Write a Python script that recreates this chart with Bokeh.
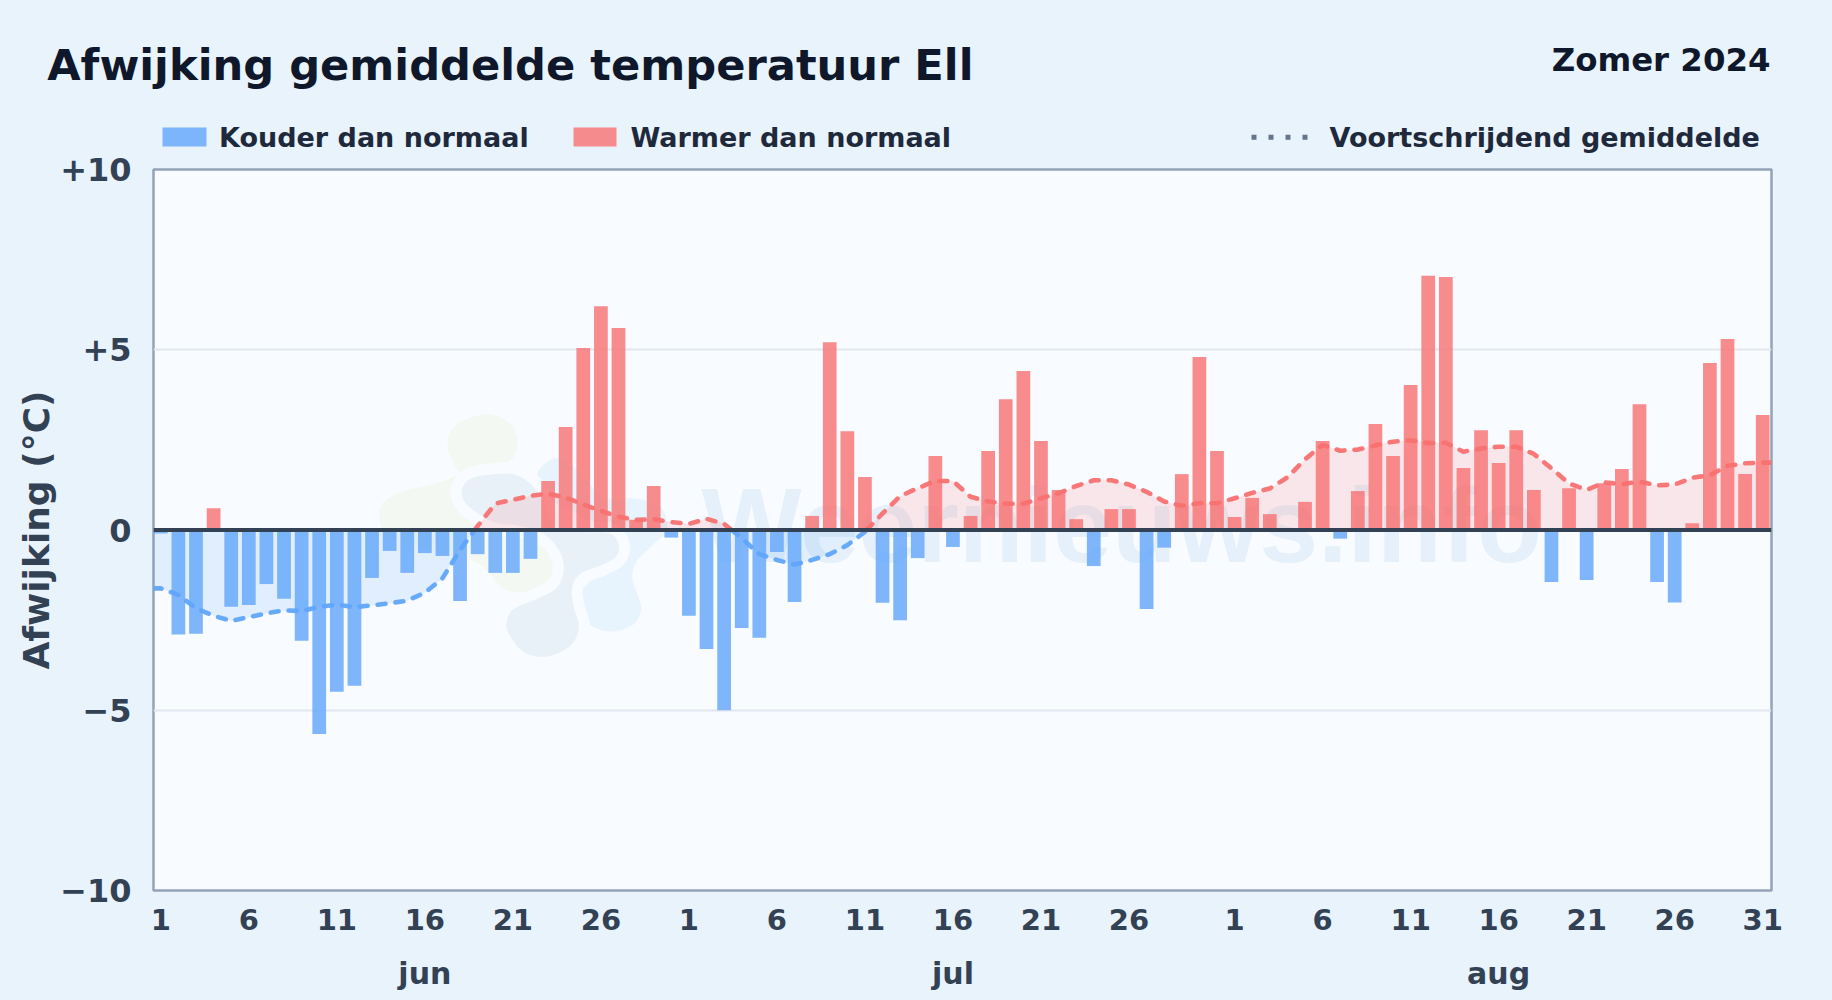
from bokeh.embed import file_html
from bokeh.resources import INLINE
from bokeh.plotting import figure
from bokeh.layouts import column
from bokeh.models import Range1d, FixedTicker, LinearAxis, Span, ColumnDataSource
from bokeh.core.properties import value

# ---------- data ----------
months = ["jun", "jul", "aug"]
month_lengths = [30, 31, 31]
june = [-0.10, -2.90, -2.88, 0.60, -2.13, -2.08, -1.50, -1.91, -3.07, -5.66,
        -4.49, -4.32, -1.33, -0.58, -1.19, -0.64, -0.72, -1.97, -0.67, -1.19,
        -1.19, -0.80, 1.36, 2.86, 5.05, 6.21, 5.60, 0.28, 1.22, -0.21]
july = [-2.38, -3.30, -5.00, -2.72, -2.99, -0.61, -2.00, 0.39, 5.21, 2.74,
        1.47, -2.02, -2.50, -0.78, 2.05, -0.47, 0.39, 2.19, 3.63, 4.41,
        2.47, 1.11, 0.30, -1.00, 0.58, 0.58, -2.19, -0.49, 1.55, 4.80, 2.19]
august = [0.36, 0.89, 0.44, 0.0, 0.78, 2.47, -0.24, 1.08, 2.94, 2.05,
          4.02, 7.05, 7.02, 1.72, 2.77, 1.86, 2.77, 1.11, -1.44, 1.16,
          -1.39, 1.30, 1.69, 3.49, -1.44, -2.01, 0.19, 4.63, 5.30, 1.55, 3.19]
mean_june = [-1.62, -1.80, -2.17, -2.38, -2.52, -2.42, -2.31, -2.23, -2.25, -2.13,
             -2.07, -2.14, -2.09, -2.03, -1.96, -1.74, -1.34, -0.55, 0.11, 0.73,
             0.84, 0.95, 1.01, 0.90, 0.71, 0.53, 0.37, 0.28, 0.30, 0.22]
mean_july = [0.17, 0.31, 0.17, -0.23, -0.67, -0.83, -0.96, -0.83, -0.67, -0.42,
             -0.05, 0.46, 0.94, 1.16, 1.36, 1.36, 0.92, 0.79, 0.73, 0.73,
             0.88, 1.02, 1.22, 1.38, 1.38, 1.26, 1.06, 0.79, 0.67, 0.75, 0.74]
mean_august = [0.88, 1.03, 1.15, 1.46, 1.96, 2.36, 2.20, 2.23, 2.35, 2.45,
               2.49, 2.41, 2.42, 2.17, 2.26, 2.31, 2.31, 2.11, 1.71, 1.29,
               1.11, 1.32, 1.27, 1.34, 1.24, 1.26, 1.45, 1.52, 1.78, 1.85, 1.87]
y_ticks = [-10, -5, 0, 5, 10]
y_tick_labels = ["\u221210", "\u22125", "0", "+5", "+10"]
day_labels = [1, 6, 11, 16, 21, 26]
august_extra_day = 31
month_pos = [15, 45, 76]

TITLE = "Afwijking gemiddelde temperatuur Ell"
PERIOD = "Zomer 2024"
LEG_COLD = "Kouder dan normaal"
LEG_WARM = "Warmer dan normaal"
LEG_MEAN = "Voortschrijdend gemiddelde"
Y_LABEL = "Afwijking (\u00b0C)"
WATERMARK = "Weernieuws.info"

# ---------- derived ----------
values = june + july + august
means = mean_june + mean_july + mean_august
xs = list(range(len(values)))

BG = "#e9f3fc"
PLOT_BG = "#f8fbff"
BLUE = "#60a5fa"
RED = "#f87171"
INK = "#0f172a"
INK2 = "#1e293b"
AXIS_INK = "#334155"
FONT = "DejaVu Sans"
W, H = 1832, 1000
HEAD = 157        # header figure height
OVERLAP = 7       # header hangs this far over the main figure, so descenders stay whole
MAIN_TOP = HEAD - OVERLAP
L, T, R, B = 153, 169, 1771, 890  # frame in page pixels

# ---------- header figure ----------
h = figure(width=W, height=HEAD, output_backend="svg", toolbar_location=None,
           x_range=Range1d(0, W), y_range=Range1d(HEAD, 0),
           min_border=0, x_axis_type=None, y_axis_type=None, frame_align=False,
           background_fill_color=None, border_fill_color=None,
           margin=(0, 0, -OVERLAP, 0),
           styles={"position": "relative", "z-index": "2", "pointer-events": "none"})
h.outline_line_color = None
h.grid.visible = False


def label(x, y, text, size, color, align="left"):
    h.text([x], [y], text=[text], text_font=value(FONT), text_font_style="bold",
           text_font_size=size, text_color=color, text_align=align,
           text_baseline="alphabetic")


label(46.7, 64, TITLE, "43.2px", INK)
label(1770, 59, PERIOD, "32.4px", INK, "right")
h.quad(left=[162], right=[206], top=[127], bottom=[146], fill_color=BLUE, fill_alpha=0.8,
       line_color=None)
label(218.5, 137.3, LEG_COLD, "27px", INK2)
h.quad(left=[573], right=[616], top=[127], bottom=[146], fill_color=RED, fill_alpha=0.8,
       line_color=None)
label(630, 137.3, LEG_WARM, "27px", INK2)
h.line([1251, 1308], [136.7, 136.7], line_color="#64748b", line_width=5, line_dash="5 12")
label(1329, 137.3, LEG_MEAN, "27px", INK2)

# ---------- main figure ----------
x_lo, x_hi = -0.415, 91.5
p = figure(width=W, height=H - MAIN_TOP, output_backend="svg", toolbar_location=None,
           x_range=Range1d(x_lo, x_hi), y_range=Range1d(-10, 10),
           min_border_left=L, min_border_top=T - MAIN_TOP, frame_align=False,
           min_border_right=W - R, min_border_bottom=H - B,
           background_fill_color=PLOT_BG, border_fill_color=BG)
p.outline_line_color = "#94a3b8"
p.outline_line_width = 2.5


def px_x(px):
    return x_lo + (px - L) / (R - L) * (x_hi - x_lo)


def px_y(py):
    return 10 - (py - T) / (B - T) * 20


# ---------- faint logo behind the chart (decoration) ----------
def smooth(points, n=10):
    out = []
    m = len(points)
    for i in range(m):
        p0, p1, p2, p3 = points[i - 1], points[i], points[(i + 1) % m], points[(i + 2) % m]
        for k in range(n):
            t = k / n
            out.append(tuple(
                0.5 * (2 * p1[a] + (p2[a] - p0[a]) * t
                       + (2 * p0[a] - 5 * p1[a] + 4 * p2[a] - p3[a]) * t ** 2
                       + (3 * p1[a] - p0[a] - 3 * p2[a] + p3[a]) * t ** 3)
                for a in (0, 1)))
    return out


def blob(points, color, halo=False):
    pts = smooth([(370 + a / 3, 400 + b / 3) for a, b in points])
    bx = [px_x(a) for a, _ in pts]
    by = [px_y(b) for _, b in pts]
    if halo:
        p.patch(bx, by, fill_color=PLOT_BG, line_color=PLOT_BG, line_width=22, level="underlay")
    p.patch(bx, by, fill_color=color, line_color=None, level="underlay")


blob([(240, 95), (290, 55), (360, 42), (420, 70), (442, 125), (425, 175), (370, 198), (290, 210),
      (225, 240), (170, 255), (90, 275), (35, 310), (28, 360), (55, 410), (150, 440), (300, 480),
      (350, 510), (400, 565), (470, 575), (530, 545), (552, 495), (530, 440), (480, 395),
      (420, 375), (330, 300), (240, 170)], "#f3f9f2")
blob([(500, 225), (530, 185), (580, 175), (640, 230), (700, 290), (800, 295), (870, 320),
      (890, 385), (850, 430), (800, 480), (785, 530), (800, 580), (812, 625), (790, 670),
      (730, 693), (670, 680), (630, 640), (625, 590), (650, 550), (700, 510), (740, 470),
      (745, 420), (700, 380), (600, 330), (530, 290)], "#e7f3fd")
blob([(275, 265), (300, 235), (360, 222), (430, 222), (480, 250), (510, 290), (530, 340),
      (560, 385), (650, 395), (720, 400), (745, 435), (735, 470), (690, 495), (630, 520),
      (605, 560), (610, 620), (625, 680), (600, 735), (530, 768), (460, 755), (415, 700),
      (408, 665), (430, 625), (500, 595), (560, 560), (580, 500), (560, 440), (510, 395),
      (440, 375), (370, 365), (310, 330), (280, 300)], "#e9f1f8", halo=True)

p.text([px_x(701)], [px_y(524)], text=[WATERMARK], text_font=value("Liberation Sans"),
       text_font_size="106px", text_font_style="bold", text_color="#e6f0fa",
       text_baseline="alphabetic", level="underlay")

# ---------- grid ----------
p.xgrid.visible = False
p.ygrid.ticker = FixedTicker(ticks=[-5, 5])
p.ygrid.grid_line_color = "#e2e8f0"
p.ygrid.grid_line_width = 2

# ---------- rolling mean, split at zero; runs on to the frame's edges ----------
seg_x, seg_y = [x_lo], [means[0]]
for i, m in enumerate(means):
    if i and (means[i - 1] < 0) != (m < 0):
        seg_x.append(i - 1 + means[i - 1] / (means[i - 1] - m))
        seg_y.append(0.0)
    seg_x.append(i)
    seg_y.append(m)
seg_x.append(x_hi)
seg_y.append(means[-1])
pos_y = [max(v, 0) for v in seg_y]
neg_y = [min(v, 0) for v in seg_y]
p.varea(seg_x, y1=[0] * len(seg_x), y2=pos_y, fill_color=RED, fill_alpha=0.15)
p.varea(seg_x, y1=[0] * len(seg_x), y2=neg_y, fill_color=BLUE, fill_alpha=0.15)

# ---------- bars ----------
bar_src = ColumnDataSource(dict(
    x=xs, top=values,
    color=[RED if v >= 0 else BLUE for v in values]))
p.vbar(x="x", top="top", bottom=0, width=0.78, fill_color="color", fill_alpha=0.8,
       line_color=None, source=bar_src)

# one dashed line per run of equal sign
run_x, run_y = [seg_x[0]], [seg_y[0]]
for a, b in zip(seg_x[1:], seg_y[1:]):
    run_x.append(a)
    run_y.append(b)
    if b == 0.0 or a == seg_x[-1]:
        col = RED if max(run_y) > 0 else BLUE
        p.line(run_x, run_y, line_color=col, line_width=4.6, line_dash="8 10",
               line_cap="round", line_join="round", line_alpha=0.95)
        run_x, run_y = [a], [b]

p.add_layout(Span(location=0, dimension="width", line_color=AXIS_INK, line_width=4))

# ---------- axes ----------
p.yaxis.ticker = FixedTicker(ticks=y_ticks)
p.yaxis.major_label_overrides = dict(zip(y_ticks, y_tick_labels))
p.yaxis.axis_label = Y_LABEL
ax = p.yaxis[0]
ax.axis_line_color = None
ax.major_tick_line_color = None
ax.minor_tick_line_color = None
ax.major_label_standoff = 16
ax.major_label_text_font = FONT
ax.major_label_text_font_style = "bold"
ax.major_label_text_font_size = "32px"
ax.major_label_text_color = AXIS_INK
ax.axis_label_text_font = FONT
ax.axis_label_text_font_style = "bold"
ax.axis_label_text_font_size = "36px"
ax.axis_label_text_color = AXIS_INK
ax.axis_label_standoff = 0

tick_pos, tick_lab = [], []
start = 0
for mi, n in enumerate(month_lengths):
    days = list(day_labels) + ([august_extra_day] if mi == 2 else [])
    for d in days:
        tick_pos.append(start + d - 1)
        tick_lab.append(str(d))
    start += n
xa = p.xaxis[0]
xa.ticker = FixedTicker(ticks=tick_pos)
xa.major_label_overrides = dict(zip(tick_pos, tick_lab))
xa.axis_line_color = None
xa.major_tick_line_color = None
xa.minor_tick_line_color = None
xa.major_label_standoff = 12
xa.major_label_text_font = FONT
xa.major_label_text_font_style = "bold"
xa.major_label_text_font_size = "29px"
xa.major_label_text_color = AXIS_INK

ma = LinearAxis(ticker=FixedTicker(ticks=month_pos),
                major_label_overrides=dict(zip(month_pos, months)),
                axis_line_color=None, major_tick_line_color=None, minor_tick_line_color=None,
                major_label_standoff=17, major_label_text_font=FONT,
                major_label_text_font_style="bold", major_label_text_font_size="30px",
                major_label_text_color=AXIS_INK)
p.add_layout(ma, "below")

page = column(h, p, spacing=0)
html = file_html(page, INLINE)
html = html.replace("</head>", "<style>body{background:%s;}</style></head>" % BG, 1)
open("out.html", "w").write(html)
